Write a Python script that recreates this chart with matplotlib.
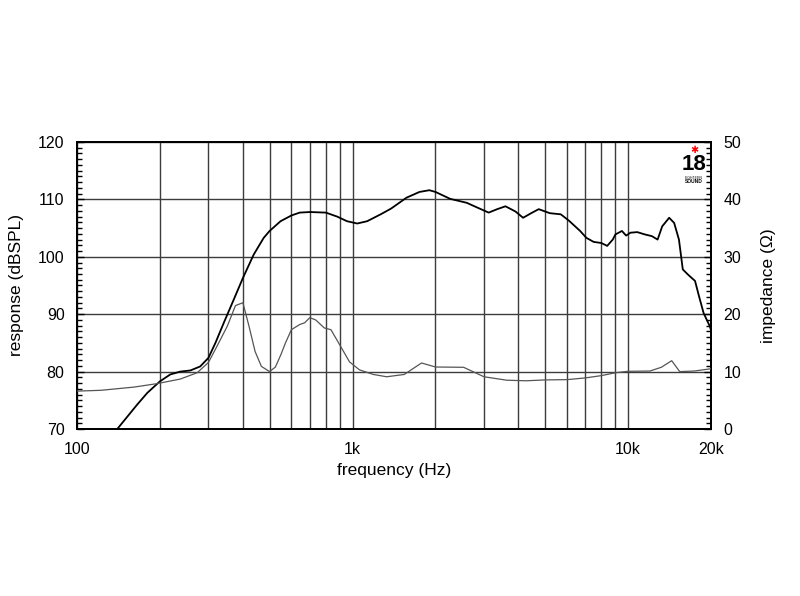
import matplotlib
matplotlib.use("Agg")
import matplotlib.pyplot as plt
from matplotlib.ticker import FixedLocator, MultipleLocator, NullFormatter

plt.rcParams['font.family'] = ['Liberation Sans', 'DejaVu Sans']

# Frequency response (dB SPL, left axis)
resp_f = [140, 152, 165, 180, 200, 218, 237, 258, 280, 300, 318, 341, 371, 400, 438, 476,
          500, 548, 600, 643, 700, 800, 880, 955, 1040, 1130, 1265, 1380, 1570, 1750, 1900,
          2000, 2260, 2600, 2800, 3120, 3350, 3590, 3900, 4160, 4450, 4740, 5200, 5700,
          6100, 6700, 7060, 7500, 8000, 8400, 8800, 9000, 9500, 9840, 10200, 10800, 11500,
          12200, 12800, 13300, 14100, 14700, 15300, 15800, 16500, 17500, 18100, 18800,
          19800, 20000]
resp_db = [70.0, 72.1, 74.2, 76.3, 78.3, 79.5, 80.0, 80.2, 80.9, 82.4, 85.0, 88.5, 92.6,
           96.3, 100.4, 103.3, 104.5, 106.2, 107.2, 107.7, 107.8, 107.7, 107.0, 106.2,
           105.8, 106.2, 107.4, 108.4, 110.3, 111.3, 111.6, 111.3, 110.1, 109.4, 108.7,
           107.7, 108.3, 108.8, 107.9, 106.8, 107.6, 108.3, 107.6, 107.4, 106.3, 104.5,
           103.3, 102.6, 102.4, 101.9, 103.0, 103.9, 104.5, 103.7, 104.2, 104.3, 103.9,
           103.6, 103.0, 105.3, 106.8, 105.9, 103.0, 97.8, 96.9, 95.8, 93.1, 90.2, 87.9,
           87.2]

# Impedance (ohm, right axis)
imp_f = [100, 122, 161, 195, 237, 273, 300, 322, 351, 376, 400, 421, 443, 467, 500, 525,
         550, 571, 600, 643, 670, 700, 735, 790, 835, 900, 975, 1060, 1190, 1330, 1540,
         1780, 2000, 2530, 3000, 3630, 4270, 5000, 6000, 7000, 8000, 9000, 10000, 12000,
         13200, 14400, 15400, 17400, 20000]
imp_ohm = [6.6, 6.74, 7.3, 7.9, 8.7, 9.8, 11.6, 14.4, 17.9, 21.5, 22.0, 17.9, 13.5, 10.9,
           10.0, 10.8, 13.0, 15.0, 17.3, 18.2, 18.5, 19.4, 19.0, 17.6, 17.3, 14.6, 11.7,
           10.3, 9.5, 9.1, 9.5, 11.5, 10.8, 10.75, 9.1, 8.5, 8.4, 8.55, 8.6, 8.9, 9.3, 9.8,
           10.05, 10.1, 10.75, 11.9, 10.0, 10.1, 10.5]

x_major = [100, 1000, 10000, 20000]
x_labels = ['100', '1k', '10k', '20k']
x_grid = [200, 300, 400, 500, 600, 700, 800, 900,
          2000, 3000, 4000, 5000, 6000, 7000, 8000, 9000]

fig = plt.figure(figsize=(8, 5.96), dpi=100)
ax = fig.add_axes([77 / 800, 1 - 429 / 596, 634 / 800, 287 / 596])
ax.set_xscale('log')
ax.set_xlim(100, 20000)
ax.set_ylim(70, 120)

ax.xaxis.set_major_locator(FixedLocator(x_major))
ax.set_xticklabels(x_labels)
ax.xaxis.set_minor_locator(FixedLocator(x_grid))
ax.xaxis.set_minor_formatter(NullFormatter())
ax.tick_params(axis='x', which='both', length=0, pad=9, labelsize=11.5)

ax.yaxis.set_major_locator(MultipleLocator(10))
ax.yaxis.set_minor_locator(MultipleLocator(1))
ax.tick_params(axis='y', which='major', direction='in', length=5, width=1, pad=9, labelsize=11.5)
ax.tick_params(axis='y', which='minor', direction='in', length=3.5, width=1)

ax.grid(True, which='major', color='#3c3c3c', linewidth=1.0)
ax.grid(True, which='minor', axis='x', color='#3c3c3c', linewidth=1.0)
ax.set_axisbelow(True)

for s in ax.spines.values():
    s.set_linewidth(1.3)
    s.set_color('black')

ax2 = ax.twinx()
ax2.set_ylim(0, 50)
ax2.yaxis.set_major_locator(MultipleLocator(10))
ax2.yaxis.set_minor_locator(MultipleLocator(1))
ax2.tick_params(axis='y', which='major', direction='in', length=5, width=1, pad=9, labelsize=11.5)
ax2.tick_params(axis='y', which='minor', direction='in', length=3.5, width=1)
for s in ax2.spines.values():
    s.set_linewidth(1.3)

ax2.plot(imp_f, imp_ohm, color='#555555', linewidth=0.9, zorder=3)
ax.plot(resp_f, resp_db, color='black', linewidth=1.3, zorder=4)

ax.set_xlabel('frequency (Hz)', fontsize=12.5, labelpad=5)
ax.set_ylabel('response (dBSPL)', fontsize=12.5, labelpad=10)
ax2.set_ylabel('impedance (Ω)', fontsize=12.5, labelpad=14)

# logo
fig.text(694 / 800, 1 - 150 / 596, '✱', color='red', fontsize=7, ha='center', va='center',
         family=['DejaVu Sans'])
fig.text(694 / 800, 1 - 165 / 596, '18', color='black', fontsize=16, fontweight='bold',
         ha='center', va='center', family=['Liberation Sans Narrow', 'Liberation Sans'])
fig.text(694 / 800, 1 - 178 / 596, 'EIGHTEEN', color='black', fontsize=2.5,
         ha='center', va='center')
fig.text(694 / 800, 1 - 182 / 596, 'SOUND', color='black', fontsize=3.5, fontweight='bold',
         ha='center', va='center')

fig.savefig('out.png', dpi=100)
